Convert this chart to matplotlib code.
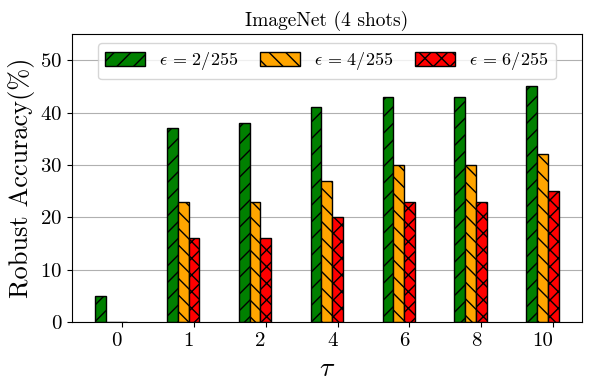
import matplotlib
matplotlib.use("Agg")
import matplotlib.pyplot as plt
import numpy as np

plt.rcParams['font.family'] = 'serif'
plt.rcParams['font.serif'] = ['cmr10']
plt.rcParams['mathtext.fontset'] = 'cm'
plt.rcParams['axes.formatter.use_mathtext'] = True
plt.rcParams['hatch.linewidth'] = 1.0

taus = ['0', '1', '2', '4', '6', '8', '10']
eps2 = [5, 37, 38, 41, 43, 43, 45]
eps4 = [0, 23, 23, 27, 30, 30, 32]
eps6 = [0, 16, 16, 20, 23, 23, 25]
labels = [r'$\epsilon\,=\,2/255$', r'$\epsilon\,=\,4/255$', r'$\epsilon\,=\,6/255$']
colors = ['green', 'orange', 'red']
hatches = ['//', '\\\\', 'xx']

fig = plt.figure(figsize=(5.9, 3.9), dpi=100)
ax = fig.add_axes([0.122, 0.174, 0.864, 0.739])

x = np.arange(len(taus))
w = 0.15
for i, (vals, lab, c, h) in enumerate(zip([eps2, eps4, eps6], labels, colors, hatches)):
    ax.bar(x - (2 - i) * w, vals, w, label=lab, color=c, edgecolor='black',
           hatch=h, linewidth=1.0)

ax.set_ylim(0, 55)
ax.set_xticks(x)
ax.set_xticklabels(taus, ha='right', fontsize=15)
ax.tick_params(axis='y', labelsize=15)
ax.set_yticks([0, 10, 20, 30, 40, 50])
ax.yaxis.grid(True, color='#b0b0b0', linewidth=0.8)
ax.set_axisbelow(True)
ax.set_xlabel(r'$\tau$', fontsize=20)
ax.set_ylabel('Robust Accuracy(%)', fontsize=19)
ax.set_title('ImageNet (4 shots)', fontsize=14)
ax.legend(loc='upper center', ncol=3, fontsize=13, handlelength=2.2,
          handleheight=0.85, columnspacing=1.2)

fig.savefig('out.png', dpi=100)
